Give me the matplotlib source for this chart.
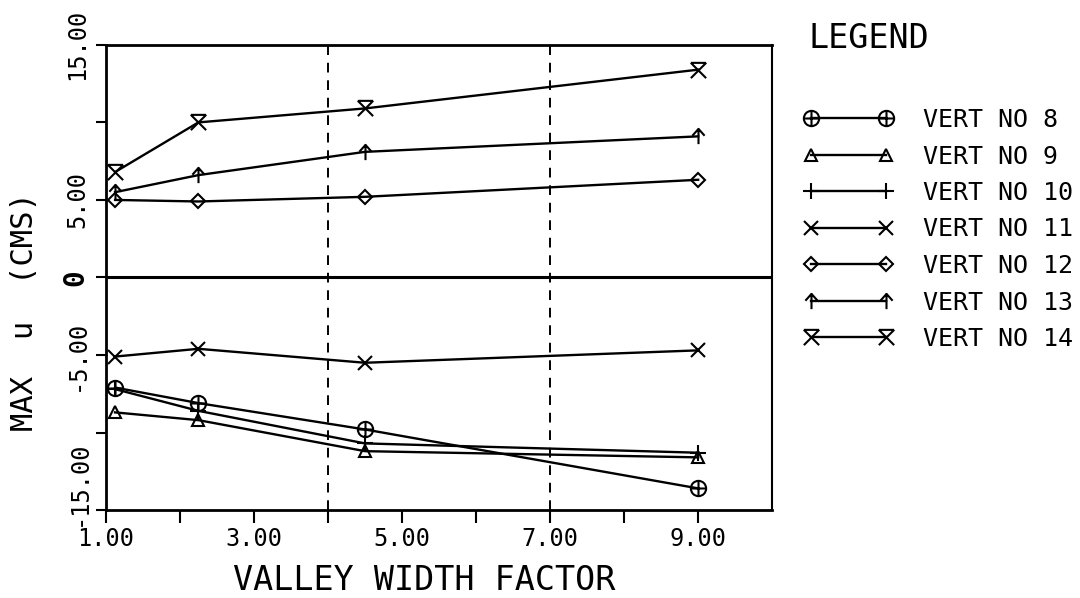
import matplotlib
matplotlib.use("Agg")
import matplotlib.pyplot as plt
import matplotlib.transforms as mtransforms
from matplotlib.path import Path
import numpy as np

# Data
valley_width = [1.125, 2.25, 4.5, 9.0]
vert8 = [-7.1, -8.1, -9.8, -13.6]
vert9 = [-8.7, -9.2, -11.2, -11.6]
vert10 = [-7.2, -8.6, -10.7, -11.3]
vert11 = [-5.1, -4.6, -5.5, -4.7]
vert12 = [5.0, 4.9, 5.2, 6.3]
vert13 = [5.5, 6.6, 8.1, 9.1]
vert14 = [6.8, 10.0, 10.9, 13.4]

series_labels = ["VERT NO 8", "VERT NO 9", "VERT NO 10", "VERT NO 11",
                 "VERT NO 12", "VERT NO 13", "VERT NO 14"]

x_ticks = [1, 2, 3, 4, 5, 6, 7, 8, 9]
x_ticklabels = ["1.00", "", "3.00", "", "5.00", "", "7.00", "", "9.00"]
y_ticks = [-15, -10, -5, 0, 5, 10, 15]
y_ticklabels = ["", "", "-5.00", "0", "5.00", "", "15.00"]

# custom plotter-like markers
M, L = Path.MOVETO, Path.LINETO
circ = Path.unit_circle()
cross = Path([[0, -1], [0, 1], [-1, 0], [1, 0]], [M, L, M, L])
circle_plus = Path.make_compound_path(circ, cross)
arrow_up = Path([[-0.8, 0.1], [0, 1], [0.8, 0.1], [0, 1], [0, -1]], [M, L, L, M, L])
x_bar = Path([[-1, 1], [1, 1], [-1, 1], [1, -1], [1, 1], [-1, -1]], [M, L, M, L, M, L])

mono = "DejaVu Sans Mono"

fig = plt.figure(figsize=(10.8, 5.98), dpi=100)
ax = fig.add_axes([0.098, 0.147, 0.617, 0.778])

kw = dict(color="black", lw=1.7, mfc="none", mec="black", mew=1.5)
handles = []
handles += ax.plot(valley_width, vert8, marker=circle_plus, ms=11, **kw)
handles += ax.plot(valley_width, vert9, marker="^", ms=9, **kw)
handles += ax.plot(valley_width, vert10, marker="+", ms=11, **kw)
handles += ax.plot(valley_width, vert11, marker="x", ms=10, **kw)
handles += ax.plot(valley_width, vert12, marker="D", ms=7, **kw)
handles += ax.plot(valley_width, vert13, marker=arrow_up, ms=11, **kw)
handles += ax.plot(valley_width, vert14, marker=x_bar, ms=11, **kw)

ax.axhline(0, color="black", lw=2.2)
ax.axvline(4, color="black", lw=1.4, ls=(0, (5, 4)))
ax.axvline(7, color="black", lw=1.4, ls=(0, (5, 4)))

ax.set_xlim(1, 10)
ax.set_ylim(-15, 15)
ax.set_xticks(x_ticks)
ax.set_xticklabels(x_ticklabels, fontfamily=mono, fontsize=17)
ax.set_yticks(y_ticks)
ax.set_yticklabels(y_ticklabels, fontfamily=mono, fontsize=17,
                   rotation=90, va="center")
for lab in ax.get_yticklabels():
    if lab.get_text() == "0":
        lab.set_fontweight("bold")
        lab.set_fontsize(20)
ax.tick_params(axis="x", direction="out", length=9, width=1.5, pad=3)
ax.tick_params(axis="y", direction="out", length=7, width=1.5, pad=5)

# the -15 label sits a bit higher in the original
trans = mtransforms.blended_transform_factory(ax.transAxes, ax.transData)
ax.text(-0.0405, -13.3, "-15.00", transform=trans, rotation=90,
        ha="center", va="center", fontfamily=mono, fontsize=17)

for side in ["left", "bottom", "top"]:
    ax.spines[side].set_linewidth(2)
ax.spines["right"].set_linewidth(1.5)

fig.text(424 / 1080, 1 - 580 / 598, "VALLEY WIDTH FACTOR", ha="center",
         va="center", fontfamily=mono, fontsize=24)
fig.text(25 / 1080, 1 - 312 / 598, "MAX  u  (CMS)", rotation=90, ha="center",
         va="center", fontfamily=mono, fontsize=22)

# legend
fig.text(808 / 1080, 1 - 38 / 598, "LEGEND", ha="left", va="center",
         fontfamily=mono, fontsize=24)
fig.legend(handles, series_labels, loc="upper left",
           bbox_to_anchor=(803 / 1080, 1 - 108 / 598), numpoints=2,
           frameon=False, borderpad=0, borderaxespad=0, handlelength=3.6,
           handletextpad=1.2, labelspacing=0.5,
           prop={"family": mono, "size": 18})

fig.savefig("out.png", dpi=100, facecolor="white")
